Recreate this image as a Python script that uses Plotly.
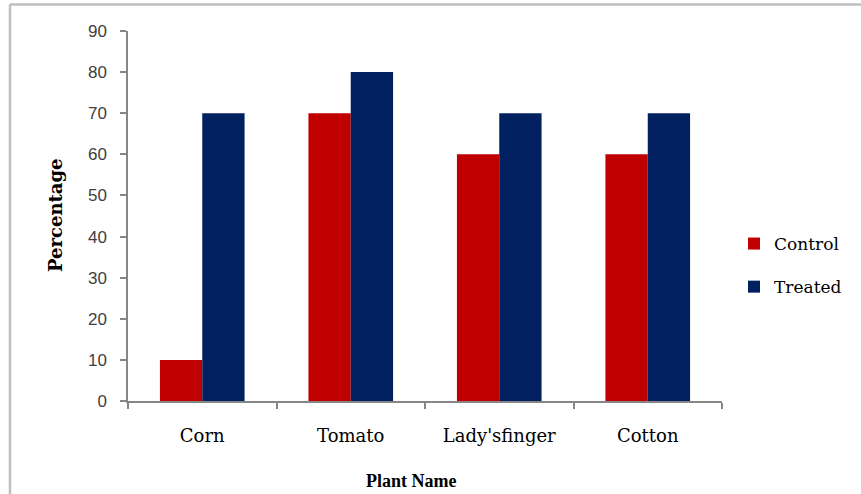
import plotly.graph_objects as go

categories = ["Corn", "Tomato", "Lady'sfinger", "Cotton"]
control = [10, 70, 60, 60]
treated = [70, 80, 70, 70]
y_ticks = [0, 10, 20, 30, 40, 50, 60, 70, 80, 90]

L, R, T, B = 128, 139, 31, 93
W, H = 861, 494
pw, ph = W - L - R, H - T - B

fig = go.Figure()
fig.add_trace(go.Bar(x=categories, y=control, name="Control", legendgroup="c",
                     marker=dict(color="#C00000", line=dict(width=0))))
fig.add_trace(go.Bar(x=categories, y=treated, name="Treated", legendgroup="t",
                     marker=dict(color="#002060", line=dict(width=0))))

def px_x(p):
    return (p - L) / pw

def px_y(p):
    return (H - B - p) / ph

fig.update_layout(
    width=W, height=H,
    margin=dict(l=L, r=R, t=T, b=B),
    paper_bgcolor="white", plot_bgcolor="white",
    barmode="group", bargap=0.43, bargroupgap=0,
    font=dict(family="Liberation Serif", color="#000000"),
    legend=dict(x=px_x(734), y=px_y(226), xanchor="left", yanchor="top",
                font=dict(family="DejaVu Serif", size=17, color="#000"),
                tracegroupgap=18, itemwidth=30, bgcolor="rgba(0,0,0,0)"),
    xaxis=dict(showline=True, linecolor="#868686", linewidth=1.5,
               ticks="outside", ticklen=6, tickcolor="#868686", tickwidth=1.5,
               tickson="boundaries", showgrid=False,
               tickfont=dict(family="DejaVu Serif", size=18, color="#000"),
               ticklabelstandoff=18),
    yaxis=dict(range=[0, 90], tickvals=y_ticks, showline=True, linecolor="#868686", linewidth=1.5,
               ticks="outside", ticklen=6, tickcolor="#868686", tickwidth=1.5,
               showgrid=False, zeroline=False,
               tickfont=dict(family="Liberation Sans", size=17, color="#404040"),
               ticklabelstandoff=10),
    showlegend=True,
)

fig.add_annotation(text="<b>Plant Name</b>", xref="paper", yref="paper",
                   x=px_x(411), y=px_y(481), xanchor="center", yanchor="middle",
                   showarrow=False,
                   font=dict(family="Liberation Serif", size=18, color="#000"))
fig.add_annotation(text="<b>Percentage</b>", xref="paper", yref="paper",
                   x=px_x(55), y=px_y(215), xanchor="center", yanchor="middle",
                   showarrow=False, textangle=-90,
                   font=dict(family="DejaVu Serif", size=18, color="#000"))

# chart frame (left and top edges visible)
fig.add_shape(type="line", xref="paper", yref="paper",
              x0=px_x(10), y0=px_y(4.5), x1=px_x(870), y1=px_y(4.5),
              line=dict(color="#BFBFBF", width=2.5))
fig.add_shape(type="line", xref="paper", yref="paper",
              x0=px_x(10), y0=px_y(4.5), x1=px_x(10), y1=px_y(500),
              line=dict(color="#BFBFBF", width=2.5))

fig.write_html("out.html", config={"displayModeBar": False},
               post_script="document.body.style.margin='0px';")
